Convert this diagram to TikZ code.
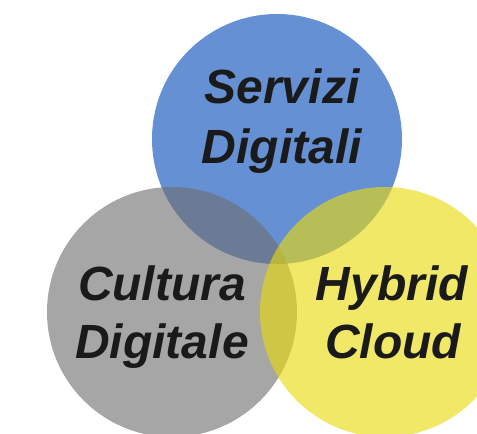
\documentclass[tikz,border=0pt]{standalone}
\usepackage{fontspec}
\setmainfont{Liberation Sans}
\definecolor{cblue}{RGB}{101,144,211}
\definecolor{cgrey}{RGB}{111,111,111}
\definecolor{cyel}{RGB}{235,218,10}
\definecolor{ctext}{RGB}{26,26,26}
\tikzset{
  venn/.style={fill=#1,draw=none},
  lbl/.style={anchor=base,inner sep=0pt,text=ctext,font=\fontsize{48}{58}\selectfont\bfseries\itshape}
}
\begin{document}
\begin{tikzpicture}[x=1pt,y=-1pt]
\useasboundingbox (0,0) rectangle (477,434);
\clip (0,0) rectangle (477,434);
\fill[white] (0,0) rectangle (477,434);
\fill[venn=cblue] (277,139) circle[radius=125];
\fill[venn=cgrey,fill opacity=0.617] (172,312) circle[radius=125];
\fill[venn=cyel,fill opacity=0.617] (385,312) circle[radius=125];
\node[lbl] (s1) at (282,103) {Servizi};
\node[lbl] (s2) at (282,163) {Digitali};
\node[lbl] (c1) at (162,300) {Cultura};
\node[lbl] (c2) at (162,358) {Digitale};
\node[lbl] (h1) at (392,300) {Hybrid};
\node[lbl] (h2) at (393,358) {Cloud};
\end{tikzpicture}
\end{document}
